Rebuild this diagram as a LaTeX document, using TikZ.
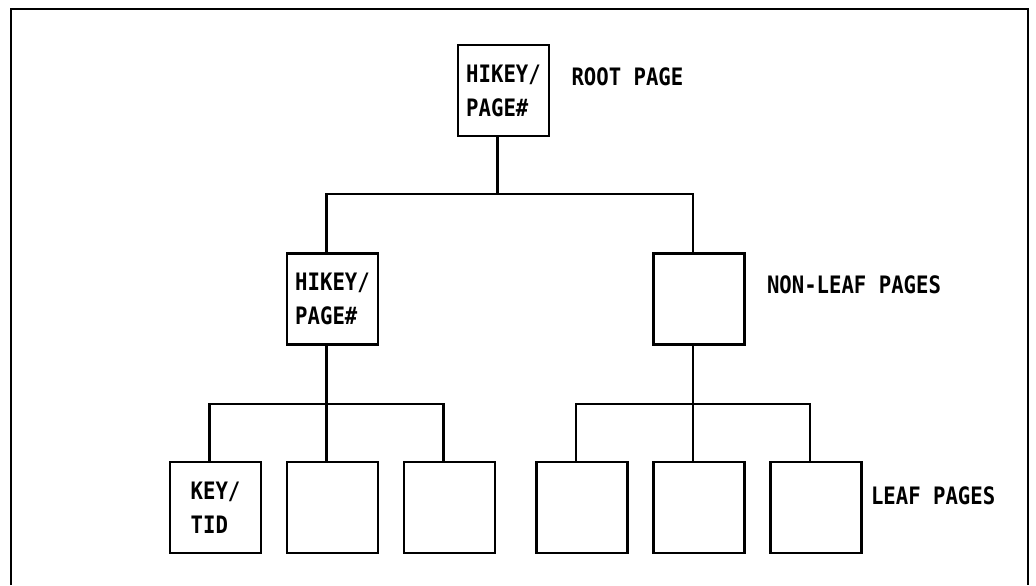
\documentclass[tikz,border=0pt]{standalone}
\usepackage{fontspec}
\usetikzlibrary{positioning}
\newfontfamily\plotfont[FakeStretch=0.86]{DejaVu Sans Mono}

\begin{document}
\begin{tikzpicture}[x=0.5pt, y=-0.5pt, node distance={104.25pt and 58.5pt}, on grid,
    page/.style={draw, line width=1.1pt, minimum size=45.5pt, inner sep=0pt, align=left,
        font=\plotfont\bfseries\fontsize{12}{17}\selectfont},
    lbl/.style={anchor=west, inner sep=0pt, font=\plotfont\bfseries\fontsize{12}{17}\selectfont},
    link/.style={line width=1.1pt}]
    \useasboundingbox (0,0) rectangle (1036,585);
    \draw[line width=1.1pt] (11,585) -- (11,9) -- (1028,9) -- (1028,585);

    \node[page] (root) at (503.5,90.5) {HIKEY/\\PAGE\#};
    \node[page, below left=104.25pt and 85.5pt of root] (ml) {HIKEY/\\PAGE\#};
    \node[page, below right=104.25pt and 97.75pt of root] (mr) {};

    \node[page, below=of ml] (l2) {};
    \node[page, left=of l2] (l1) {KEY/\\TID};
    \node[page, right=of l2] (l3) {};
    \node[page, below=of mr] (r2) {};
    \node[page, left=of r2] (r1) {};
    \node[page, right=of r2] (r3) {};

    \node[lbl] (rootlbl) at ([xshift=10.5pt, yshift=7pt]root.east) {ROOT PAGE};
    \node[lbl] (midlbl) at ([xshift=10.5pt, yshift=7pt]mr.east) {NON-LEAF PAGES};
    \node[lbl] (leaflbl) at ([xshift=4pt, yshift=6pt]r3.east) {LEAF PAGES};

    % bus levels
    \coordinate (bus1) at (0,194);
    \coordinate (bus2) at (0,404);

    \foreach \c in {ml, mr}
        \draw[link] ([xshift=-3pt]root.south) |- ([xshift=-3pt]\c.north |- bus1) -- ([xshift=-3pt]\c.north);
    \foreach \p/\c in {ml/l1, ml/l2, ml/l3, mr/r1, mr/r2, mr/r3}
        \draw[link] ([xshift=-3pt]\p.south) |- ([xshift=-3pt]\c.north |- bus2) -- ([xshift=-3pt]\c.north);
\end{tikzpicture}
\end{document}
